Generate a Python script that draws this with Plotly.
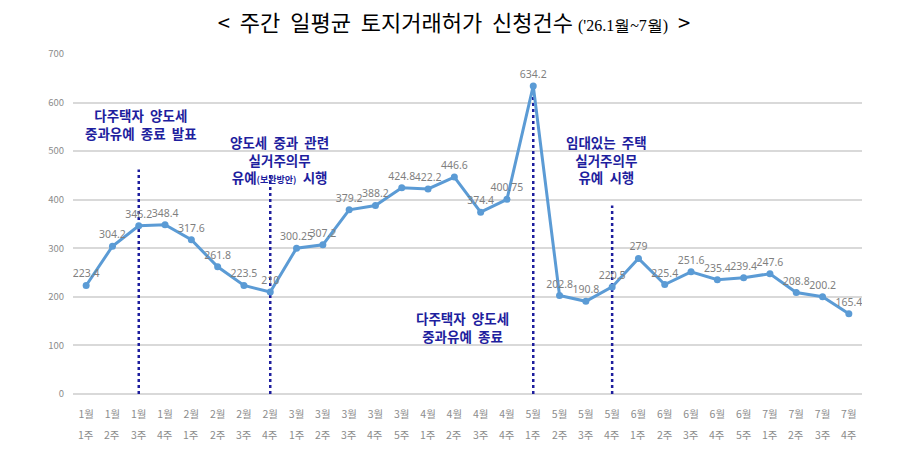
import plotly.graph_objects as go

# weekly categories
months = ["1월"] * 4 + ["2월"] * 4 + ["3월"] * 5 + ["4월"] * 4 + ["5월"] * 4 + ["6월"] * 5 + ["7월"] * 4
weeks = ["1주", "2주", "3주", "4주",
         "1주", "2주", "3주", "4주",
         "1주", "2주", "3주", "4주", "5주",
         "1주", "2주", "3주", "4주",
         "1주", "2주", "3주", "4주",
         "1주", "2주", "3주", "4주", "5주",
         "1주", "2주", "3주", "4주"]
values = [223.4, 304.2, 346.2, 348.4, 317.6, 261.8, 223.5, 210,
          300.25, 307.2, 379.2, 388.2, 424.8,
          422.2, 446.6, 374.4, 400.75,
          634.2, 202.8, 190.8, 220.5,
          279, 225.4, 251.6, 235.4, 239.4,
          247.6, 208.8, 200.2, 165.4]
value_labels = ["223.4", "304.2", "346.2", "348.4", "317.6", "261.8", "223.5", "210",
                "300.25", "307.2", "379.2", "388.2", "424.8",
                "422.2", "446.6", "374.4", "400.75",
                "634.2", "202.8", "190.8", "220.5",
                "279", "225.4", "251.6", "235.4", "239.4",
                "247.6", "208.8", "200.2", "165.4"]

# policy event markers (index of week, top of dotted line)
event_idx = [2, 7, 17, 20]
event_top = [462, 455, 634.2, 388]
event_text = [
    "다주택자  양도세<br>중과유예  종료  발표",
    "양도세  중과  관련<br>실거주의무<br>유예<span style='font-size:9px'>(보완방안)</span>  시행",
    "다주택자  양도세<br>중과유예  종료",
    "임대있는  주택<br>실거주의무<br>유예  시행",
]
event_x = [2.1, 7.35, 14.3, 19.8]
event_y = [555, 482, 138, 482]

x = list(range(len(values)))

navy = "#1E1E9E"

fig = go.Figure()
for i, top in zip(event_idx, event_top):
    fig.add_trace(go.Scatter(x=[i, i], y=[0, top], mode="lines",
                             line=dict(color=navy, width=2.5, dash="dot"),
                             hoverinfo="skip", showlegend=False))

fig.add_trace(go.Scatter(
    x=x, y=values, mode="lines+markers+text",
    text=value_labels, textposition="top center",
    textfont=dict(size=10.5, color="#7F7F7F", family="Noto Sans"),
    line=dict(color="#5B9BD5", width=3),
    marker=dict(size=7, color="#5B9BD5"),
    showlegend=False,
))

for ex, ey, t in zip(event_x, event_y, event_text):
    fig.add_annotation(x=ex, y=ey, text="<b>" + t + "</b>", showarrow=False,
                       font=dict(size=13.5, color=navy, family="Noto Sans CJK KR"),
                       align="center")

# second line of the category labels (week)
for i, w in zip(x, weeks):
    fig.add_annotation(x=i, y=-0.12, xref="x", yref="paper", text=w, showarrow=False,
                       yanchor="middle", font=dict(size=10.5, color="#8C8C8C"))

# page body has an 8px margin, so the figure is a bit smaller than the window
fig.update_layout(
    width=892, height=442,
    margin=dict(l=65, r=38, t=46, b=56),
    paper_bgcolor="white", plot_bgcolor="white",
    font=dict(family="Noto Sans CJK KR"),
    title=dict(
        text="<  주간  일평균  토지거래허가  신청건수 "
             "<span style='font-size:16px;font-family:Liberation Serif'>('26.1월~7월)</span>  >",
        x=0.5, xanchor="center", y=0.966, yanchor="middle",
        font=dict(size=22, color="#000000", family="Noto Sans CJK KR"),
    ),
)
fig.update_xaxes(
    range=[-0.5, len(values) - 0.5], tickmode="array", tickvals=x, ticktext=months,
    showgrid=False, zeroline=False, showline=False, automargin=False,
    tickfont=dict(size=10.5, color="#8C8C8C"), ticklabelstandoff=12,
)
fig.update_yaxes(
    range=[0, 700], dtick=100, showgrid=True, gridcolor="#D9D9D9", gridwidth=1.5,
    zeroline=True, zerolinecolor="#D9D9D9", zerolinewidth=1.5, showline=False,
    automargin=False,
    tickfont=dict(size=9.5, color="#8C8C8C"), ticklabelstandoff=8,
)

fig.write_html("out.html")
